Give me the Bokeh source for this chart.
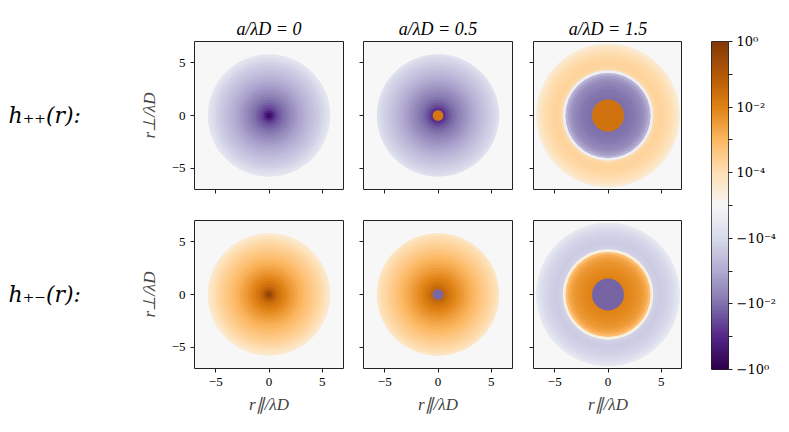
import numpy as np
from bokeh.plotting import figure
from bokeh.models import (ColumnDataSource, LinearColorMapper, FixedTicker,
                          Range1d, LinearAxis)
from bokeh.core.properties import value
from bokeh.layouts import row, column
from bokeh.transform import transform
from bokeh.embed import file_html
from bokeh.resources import INLINE

# ---------------- data ----------------
a_over_lambda = ["0", "0.5", "1.5"]
row_labels = ["h\u208a\u208a(r):", "h\u208a\u208b(r):"]

# outer radius (in units of lambda_D) of each radial ring
r_outer = [0.25, 0.5, 0.75, 1.0, 1.25, 1.5, 1.75, 2.0, 2.25, 2.5, 2.75, 3.0,
           3.25, 3.5, 3.75, 4.0, 4.25, 4.5, 4.75, 5.0, 5.25, 5.5, 5.75, 6.0,
           6.25, 6.5, 6.75, 7.0]

# radial profiles of h(r)
h_pp_a00 = [-0.40, -0.12, -0.050, -0.027, -0.017, -0.011, -0.0075, -0.0052,
            -0.0037, -0.0027, -0.0020, -0.0014, -0.0011, -8.0e-4, -6.0e-4,
            -4.5e-4, -3.4e-4, -2.6e-4, -2.0e-4, -1.5e-4, -1.1e-4, -8.5e-5,
            -6.5e-5, 0, 0, 0, 0, 0]
h_pp_a05 = [0.016, 0.016, -0.070, -0.034, -0.020, -0.013, -0.0090, -0.0064,
            -0.0046, -0.0034, -0.0025, -0.0018, -0.0014, -1.0e-3, -7.6e-4,
            -5.7e-4, -4.3e-4, -3.3e-4, -2.5e-4, -1.9e-4, -1.4e-4, -1.05e-4,
            -8.0e-5, 0, 0, 0, 0, 0]
h_pp_a15 = [0.022, 0.022, 0.022, 0.022, 0.022, 0.022, -0.011, -0.0098,
            -0.0088, -0.0078, -0.0066, -0.0054, -0.0042, -0.0030, -0.0018,
            -7.5e-4, -3e-5, 1.5e-4, 1.9e-4, 2.0e-4, 1.9e-4, 1.7e-4, 1.45e-4,
            1.2e-4, 9.5e-5, 7.5e-5, 5.5e-5, 0]
h_pm_a00 = [0.40, 0.12, 0.050, 0.027, 0.017, 0.011, 0.0075, 0.0052,
            0.0037, 0.0027, 0.0020, 0.0014, 0.0011, 8.0e-4, 6.0e-4,
            4.5e-4, 3.4e-4, 2.6e-4, 2.0e-4, 1.5e-4, 1.1e-4, 8.5e-5,
            6.5e-5, 0, 0, 0, 0, 0]
h_pm_a05 = [-0.014, -0.014, 0.045, 0.027, 0.017, 0.012, 0.0085, 0.0062,
            0.0045, 0.0033, 0.0024, 0.0018, 0.0014, 1.0e-3, 7.6e-4,
            5.7e-4, 4.3e-4, 3.3e-4, 2.5e-4, 1.9e-4, 1.4e-4, 1.05e-4,
            8.0e-5, 0, 0, 0, 0, 0]
h_pm_a15 = [-0.015, -0.015, -0.015, -0.015, -0.015, -0.015, 0.0095, 0.0085,
            0.0076, 0.0067, 0.0058, 0.0048, 0.0038, 0.0028, 0.0017,
            7e-4, 3e-5, -1.5e-4, -1.9e-4, -2.0e-4, -1.9e-4, -1.7e-4, -1.45e-4,
            -1.2e-4, -9.5e-5, -7.5e-5, -5.5e-5, 0]

profiles = [[h_pp_a00, h_pp_a05, h_pp_a15],
            [h_pm_a00, h_pm_a05, h_pm_a15]]

axis_ticks = [-5, 0, 5]
axis_tick_labels = {-5: "\u22125", 0: "0", 5: "5"}

cbar_major = [-5, -3, -1, 1, 3, 5]
cbar_minor = [-4, -2, 0, 2, 4]
cbar_labels = {5: "10\u2070", 3: "10\u207b\u00b2", 1: "10\u207b\u2074",
               -1: "\u221210\u207b\u2074", -3: "\u221210\u207b\u00b2",
               -5: "\u221210\u2070"}

LINTHRESH = 1e-4


def symlog(h):
    h = np.asarray(h, dtype=float)
    out = h / LINTHRESH
    big = np.abs(h) > LINTHRESH
    out[big] = np.sign(h[big]) * (1 + np.log10(np.abs(h[big]) / LINTHRESH))
    return out


# PuOr (reversed) colour map, 256 steps
brewer = ['#2d004b', '#542788', '#8073ac', '#b2abd2', '#d8daeb', '#f7f7f7',
          '#fee0b6', '#fdb863', '#e08214', '#b35806', '#7f3b08']
rgb = np.array([[int(c[i:i + 2], 16) for i in (1, 3, 5)] for c in brewer], float)
pos = np.linspace(0, 1, len(brewer))
grid = np.linspace(0, 1, 256)
pal = ["#%02x%02x%02x" % tuple(int(round(np.interp(g, pos, rgb[:, k]))) for k in range(3))
       for g in grid]

mapper = LinearColorMapper(palette=pal, low=-5, high=5)

FONT = "Liberation Serif"
BG = "#f7f7f7"
INK = "#222222"

TOP = [41, 16]
BOTTOM = [15, 56]


def style_axis(ax, show_labels):
    if show_labels:
        ax.ticker = FixedTicker(ticks=axis_ticks, minor_ticks=[])
        ax.major_label_overrides = axis_tick_labels
    else:
        ax.ticker = FixedTicker(ticks=[], minor_ticks=axis_ticks)
    ax.major_tick_in = 0
    ax.major_tick_out = 4
    ax.minor_tick_in = 0
    ax.minor_tick_out = 4
    ax.major_tick_line_color = INK
    ax.minor_tick_line_color = INK
    ax.axis_line_color = None
    ax.major_label_standoff = 5
    ax.major_label_text_font = FONT
    ax.major_label_text_color = "black"
    ax.major_label_text_font_size = "13px"


def label_fig(ri):
    p = figure(frame_width=122, frame_height=148,
               x_range=Range1d(0, 1), y_range=Range1d(-7, 7),
               x_axis_location=None, y_axis_location=None,
               min_border_left=8, min_border_right=0,
               min_border_top=TOP[ri], min_border_bottom=BOTTOM[ri],
               toolbar_location=None, output_backend="svg",
               background_fill_color=None, border_fill_color="white")
    p.outline_line_color = None
    p.grid.visible = False
    p.text(x=[0], y=[0], text=[row_labels[ri]], text_baseline="middle",
           text_align="left", text_font=value("DejaVu Serif"),
           text_font_style="italic", text_font_size="22px", text_color="black")
    return p


def panel(ri, ci):
    left = [64, 11, 12][ci]
    right = [9, 9, 0][ci]
    p = figure(frame_width=149, frame_height=148,
               x_range=Range1d(-7, 7), y_range=Range1d(-7, 7),
               min_border_left=left, min_border_right=right,
               min_border_top=TOP[ri], min_border_bottom=BOTTOM[ri],
               toolbar_location=None, output_backend="svg",
               background_fill_color=BG, border_fill_color="white")
    p.grid.visible = False
    p.outline_line_color = INK
    p.outline_line_width = 1

    h = np.array(profiles[ri][ci], float)
    r = np.array(r_outer, float)
    keep = h != 0
    order = np.argsort(-r[keep])
    src = ColumnDataSource(dict(
        x=np.zeros(keep.sum()), y=np.zeros(keep.sum()),
        r=r[keep][order], h=h[keep][order], t=symlog(h[keep][order])))
    p.circle(x="x", y="y", radius="r", source=src,
             fill_color=transform("t", mapper), fill_alpha=1, line_color=None)

    style_axis(p.xaxis[0], ri == 1)
    style_axis(p.yaxis[0], ci == 0)

    if ci == 0:
        p.yaxis.axis_label = "r\u22a5/\u03bbD"
        p.yaxis.axis_label_text_font = FONT
        p.yaxis.axis_label_text_font_style = "italic"
        p.yaxis.axis_label_text_font_size = "17px"
        p.yaxis.axis_label_standoff = 10
    if ri == 1:
        p.xaxis.axis_label = "r\u2225/\u03bbD"
        p.xaxis.axis_label_text_font = FONT
        p.xaxis.axis_label_text_font_style = "italic"
        p.xaxis.axis_label_text_font_size = "17px"
        p.xaxis.axis_label_standoff = 6
    if ri == 0:
        p.title.text = "a/\u03bbD = " + a_over_lambda[ci]
        p.title.align = "center"
        p.title.text_font = FONT
        p.title.text_font_style = "italic"
        p.title.text_font_size = "18px"
        p.title.text_color = "black"
        p.title.standoff = 6
    return p


rows = [row(label_fig(ri), *[panel(ri, ci) for ci in range(3)], spacing=0)
        for ri in range(2)]
panels = column(*rows, spacing=0)

# colour bar
cb = figure(frame_width=17, frame_height=328,
            x_range=Range1d(0, 1), y_range=Range1d(-5, 5),
            x_axis_location=None, y_axis_location=None,
            min_border_left=29, min_border_right=53,
            min_border_top=41, min_border_bottom=55,
            toolbar_location=None, output_backend="svg",
            border_fill_color="white")
cb.grid.visible = False
ramp = np.linspace(-5, 5, 256).reshape(256, 1)
cb.image(image=[ramp], x=0, y=-5, dw=1, dh=10, color_mapper=mapper)
cb.outline_line_color = INK
cax = LinearAxis(ticker=FixedTicker(ticks=cbar_major, minor_ticks=cbar_minor),
                 major_label_overrides=cbar_labels)
cax.major_tick_in = 0
cax.major_tick_out = 4
cax.minor_tick_in = 0
cax.minor_tick_out = 4
cax.major_tick_line_color = INK
cax.minor_tick_line_color = INK
cax.axis_line_color = None
cax.major_label_standoff = 4
cax.major_label_text_font = "DejaVu Serif"
cax.major_label_text_font_size = "13px"
cax.major_label_text_color = "black"
cb.add_layout(cax, "right")

layout = row(panels, cb, spacing=0)

open("out.html", "w").write(file_html(layout, INLINE))
